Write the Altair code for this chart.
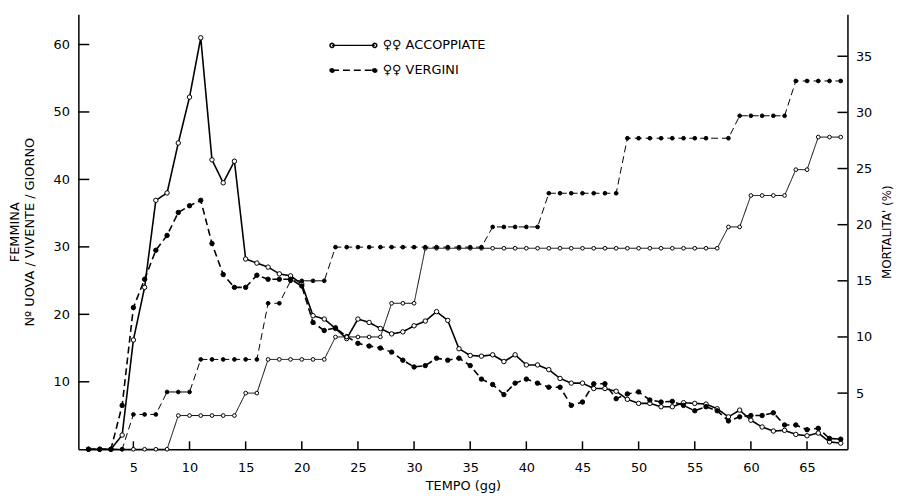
import altair as alt
import pandas as pd

# ---- data ------------------------------------------------------------------
days = [1, 2, 3, 4, 5, 6, 7, 8, 9, 10, 11, 12, 13, 14, 15, 16, 17, 18, 19, 20,
        21, 22, 23, 24, 25, 26, 27, 28, 29, 30, 31, 32, 33, 34, 35, 36, 37, 38, 39, 40,
        41, 42, 43, 44, 45, 46, 47, 48, 49, 50, 51, 52, 53, 54, 55, 56, 57, 58, 59, 60,
        61, 62, 63, 64, 65, 66, 67, 68]

eggs_accoppiate = [0, 0, 0, 2.1, 16.2, 24.0, 36.9, 38.0, 45.4, 52.2,
                   61.0, 42.9, 39.5, 42.7, 28.2, 27.6, 27.0, 26.0, 25.7, 24.5,
                   19.8, 19.3, 17.9, 16.4, 19.3, 18.8, 17.9, 17.1, 17.4, 18.3,
                   19.0, 20.4, 19.1, 14.9, 13.9, 13.8, 14.0, 13.0, 14.0, 12.5,
                   12.5, 11.8, 10.5, 9.8, 9.8, 9.0, 9.0, 8.6, 7.4, 6.8,
                   6.8, 6.3, 6.3, 6.9, 6.8, 6.7, 6.0, 4.8, 5.8, 4.3,
                   3.3, 2.7, 2.8, 2.2, 2.0, 2.4, 1.1, 0.9]
eggs_vergini = [0, 0, 0, 6.5, 21.0, 25.2, 29.5, 31.7, 35.1, 36.1,
                36.9, 30.5, 25.9, 24.0, 24.0, 25.8, 25.2, 25.2, 25.2, 24.2,
                18.8, 17.6, 18.0, 16.7, 15.7, 15.3, 15.0, 14.4, 13.2, 12.2,
                12.4, 13.5, 13.2, 13.5, 12.4, 10.4, 9.6, 8.1, 9.8, 10.4,
                9.8, 9.2, 9.2, 6.5, 7.0, 9.7, 9.7, 7.5, 8.2, 8.5,
                7.3, 7.0, 7.1, 6.5, 5.7, 6.3, 5.7, 4.2, 4.8, 5.0,
                5.0, 5.4, 3.6, 3.6, 2.9, 3.1, 1.6, 1.5]

mort_days_accoppiate = days
mort_accoppiate = [0, 0, 0, 0, 0, 0, 0, 0, 3.0, 3.0,
                   3.0, 3.0, 3.0, 3.0, 5.0, 5.0, 8.0, 8.0, 8.0, 8.0,
                   8.0, 8.0, 10.0, 10.0, 10.0, 10.0, 10.0, 13.0, 13.0, 13.0,
                   17.9, 17.9, 17.9, 17.9, 17.9, 17.9, 17.9, 17.9, 17.9, 17.9,
                   17.9, 17.9, 17.9, 17.9, 17.9, 17.9, 17.9, 17.9, 17.9, 17.9,
                   17.9, 17.9, 17.9, 17.9, 17.9, 17.9, 17.9, 19.8, 19.8, 22.6,
                   22.6, 22.6, 22.6, 24.9, 24.9, 27.8, 27.8, 27.8]
mort_days_vergini = [1, 2, 3, 4, 5, 6, 7, 8, 9, 10, 11, 12, 13, 14, 15, 16, 17, 18, 19, 20,
                     21, 22, 23, 24, 25, 26, 27, 28, 29, 30, 31, 32, 33, 34, 35, 36, 37, 38, 39, 40,
                     41, 42, 43, 44, 45, 46, 47, 48, 49, 50, 51, 52, 53, 54, 55, 56, 58, 59, 60,
                     61, 62, 63, 64, 65, 66, 67, 68]
mort_vergini = [0, 0, 0, 0, 3.1, 3.1, 3.1, 5.1, 5.1, 5.1,
                8.0, 8.0, 8.0, 8.0, 8.0, 8.0, 13.0, 13.0, 15.0, 15.0,
                15.0, 15.0, 18.0, 18.0, 18.0, 18.0, 18.0, 18.0, 18.0, 18.0,
                18.0, 18.0, 18.0, 18.0, 18.0, 18.0, 19.8, 19.8, 19.8, 19.8,
                19.8, 22.8, 22.8, 22.8, 22.8, 22.8, 22.8, 22.8, 27.7, 27.7,
                27.7, 27.7, 27.7, 27.7, 27.7, 27.7, 27.7, 29.7, 29.7,
                29.7, 29.7, 29.7, 32.8, 32.8, 32.8, 32.8, 32.8]

series_names = ["ACCOPPIATE", "VERGINI"]
x_tick_values = [5, 10, 15, 20, 25, 30, 35, 40, 45, 50, 55, 60, 65]
left_tick_values = [10, 20, 30, 40, 50, 60]
right_tick_values = [5, 10, 15, 20, 25, 30, 35]

W, H = 776, 439
FONT = "DejaVu Sans"
X_MIN, X_MAX = 0.1, 68.6
PX_PER_DAY = W / (X_MAX - X_MIN)

eggs = pd.DataFrame({
    "giorno": days + days,
    "valore": eggs_accoppiate + eggs_vergini,
    "serie": [series_names[0]] * len(days) + [series_names[1]] * len(days),
})
mort = pd.DataFrame({
    "giorno": mort_days_accoppiate + mort_days_vergini,
    "valore": mort_accoppiate + mort_vergini,
    "serie": [series_names[0]] * len(mort_days_accoppiate)
    + [series_names[1]] * len(mort_days_vergini),
})
xt = pd.DataFrame({"giorno": x_tick_values})
# inward tick segments along the two vertical axes (11 px and 10 px long)
lt = pd.DataFrame({"valore": left_tick_values,
                   "giorno": [X_MIN] * len(left_tick_values),
                   "giorno2": [X_MIN + 11 / PX_PER_DAY] * len(left_tick_values)})
rt = pd.DataFrame({"valore": right_tick_values,
                   "giorno": [X_MAX - 10 / PX_PER_DAY] * len(right_tick_values),
                   "giorno2": [X_MAX] * len(right_tick_values)})

x_scale = alt.Scale(domain=[X_MIN, X_MAX], nice=False, zero=False)
yl_scale = alt.Scale(domain=[0, 64.5], nice=False)
yr_scale = alt.Scale(domain=[0, 38.75], nice=False)
dash_scale = alt.Scale(domain=series_names, range=[[1, 0], [7, 4]])
fill_scale = alt.Scale(domain=series_names, range=["white", "black"])

legend_path = ("M-4,0L4,0"
               "M-4.38,0A0.38,0.38,0,1,0,-3.62,0A0.38,0.38,0,1,0,-4.38,0Z"
               "M3.62,0A0.38,0.38,0,1,0,4.38,0A0.38,0.38,0,1,0,3.62,0Z")

x_axis = alt.Axis(values=x_tick_values, title="TEMPO (gg)", ticks=False, tickSize=0,
                  labelPadding=12, titlePadding=6, grid=False)
yl_axis = alt.Axis(values=left_tick_values, ticks=False, tickSize=0, grid=False,
                   labelPadding=9,
                   title=["FEMMINA", "Nº UOVA / VIVENTE / GIORNO"],
                   titleFontSize=13, titleLineHeight=15, titlePadding=17)
yr_axis = alt.Axis(orient="right", values=right_tick_values, ticks=False, tickSize=0,
                   grid=False, labelPadding=8, title="MORTALITA' (%)",
                   titleAngle=270, titleBaseline="top", titlePadding=10,
                   titleFontSize=12)

X = alt.X("giorno:Q", scale=x_scale, axis=x_axis)
YL = alt.Y("valore:Q", scale=yl_scale, axis=yl_axis)
YR = alt.Y("valore:Q", scale=yr_scale, axis=yr_axis)

egg_line = alt.Chart(eggs).mark_line(color="black", strokeWidth=1.6).encode(
    x=X, y=YL,
    strokeDash=alt.StrokeDash(
        "serie:N", scale=dash_scale,
        legend=alt.Legend(title=None, orient="none", legendX=271, legendY=25,
                          symbolType=legend_path, symbolSize=116,
                          symbolStrokeWidth=1.5, symbolStrokeColor="black",
                          symbolFillColor="white",
                          labelFont=FONT, labelFontSize=13, labelColor="black",
                          labelOffset=23, rowPadding=11,
                          labelExpr="'♀♀ ' + datum.label")),
)
egg_pts = alt.Chart(eggs).mark_circle(size=20, stroke="black", strokeWidth=1,
                                      opacity=1).encode(
    x=X, y=YL,
    fill=alt.Fill("serie:N", scale=fill_scale, legend=None),
)
left_ticks = alt.Chart(lt).mark_rule(color="black", strokeWidth=1.5).encode(
    x=X, x2="giorno2:Q", y=YL,
)
bottom_ticks = alt.Chart(xt).mark_rule(color="black", strokeWidth=1.5).encode(
    x=X, y=alt.value(H), y2=alt.value(H - 8),
)

mort_line = alt.Chart(mort).mark_line(color="black", strokeWidth=1).encode(
    x=X, y=YR,
    strokeDash=alt.StrokeDash("serie:N", scale=dash_scale, legend=None),
)
mort_pts = alt.Chart(mort).mark_circle(size=14, stroke="black", strokeWidth=1,
                                       opacity=1).encode(
    x=X, y=YR,
    fill=alt.Fill("serie:N", scale=fill_scale, legend=None),
)
right_ticks = alt.Chart(rt).mark_rule(color="black", strokeWidth=1.5).encode(
    x=X, x2="giorno2:Q", y=YR,
)

left = alt.layer(egg_line, egg_pts, left_ticks, bottom_ticks)
right = alt.layer(mort_line, mort_pts, right_ticks)

chart = (
    alt.layer(left, right)
    .resolve_scale(y="independent")
    .properties(width=W, height=H, autosize="none",
                padding={"left": 71, "top": 4, "right": 51, "bottom": 49},
                background="white")
    .configure_view(stroke=None)
    .configure_axis(domainColor="black", domainWidth=1.5, labelFont=FONT,
                    titleFont=FONT, labelFontSize=13, titleFontSize=13,
                    titleFontWeight="normal", labelColor="black",
                    titleColor="black", ticks=False, tickSize=0)
)

chart.save("out.html", embed_options={"renderer": "svg", "actions": False})
